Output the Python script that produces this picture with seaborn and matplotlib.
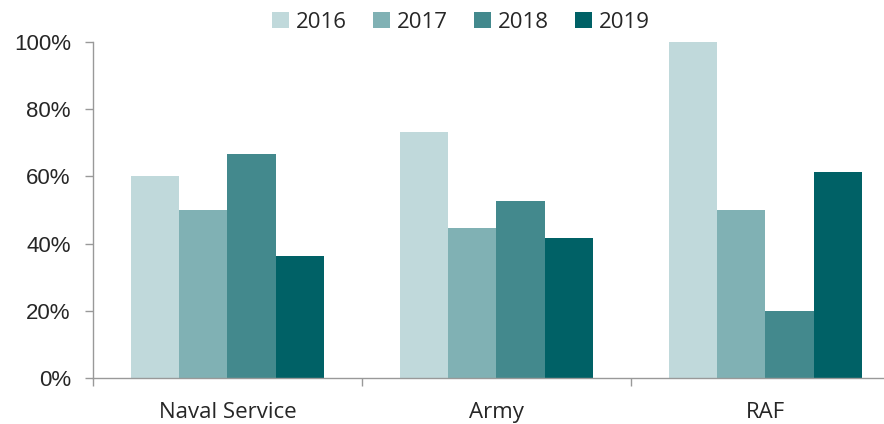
import pandas as pd
import seaborn as sns
from matplotlib import pyplot as plt
from matplotlib.ticker import PercentFormatter, FixedLocator

services = ['Naval Service', 'Army', 'RAF']
years = ['2016', '2017', '2018', '2019']
share_2016 = [60, 73.2, 100]
share_2017 = [50, 44.6, 50]
share_2018 = [66.7, 52.7, 20]
share_2019 = [36.3, 41.7, 61.3]
colours = ['#C0D9DB', '#80B1B4', '#43898D', '#006166']

rows = []
for year, vals in zip(years, [share_2016, share_2017, share_2018, share_2019]):
    for s, v in zip(services, vals):
        rows.append({'service': s, 'year': year, 'share': v})
df = pd.DataFrame(rows)

sns.set_style('white')
plt.rcParams['font.family'] = ['Liberation Sans', 'DejaVu Sans']

fig = plt.figure(figsize=(8.84, 4.24), dpi=100)
# axes runs a little past the right edge, as in the source image
ax = fig.add_axes([0.1052, 0.1085, 0.9129, 0.7925])
sns.barplot(data=df, x='service', y='share', hue='year', palette=colours,
            width=0.72, saturation=1, linewidth=0, ax=ax, legend=True)

ax.set_ylim(0, 100)
ax.set_xlim(-0.5, 2.5)
ax.yaxis.set_major_formatter(PercentFormatter(decimals=0))
ax.set_yticks(range(0, 101, 20))
ax.tick_params(axis='y', left=True, length=6, width=1, color='#999999',
               labelsize=16, pad=10)
ax.tick_params(axis='x', length=0, labelsize=16, pad=17)
for lab in ax.get_xticklabels():
    lab.set_fontfamily(['Open Sans', 'DejaVu Sans'])
ax.xaxis.set_minor_locator(FixedLocator([-0.5, 0.5, 1.5]))
ax.tick_params(axis='x', which='minor', bottom=True, length=6, width=1,
               color='#999999')
ax.set_xlabel('')
ax.set_ylabel('')
for side in ['top', 'right']:
    ax.spines[side].set_visible(False)
for side in ['left', 'bottom']:
    ax.spines[side].set_color('#999999')
    ax.spines[side].set_linewidth(1)

leg = ax.legend(loc='center', bbox_to_anchor=(0.456, 1.058), ncol=4,
                frameon=False, handlelength=0.75, handleheight=0.75,
                handletextpad=0.3, columnspacing=1.2,
                prop={'family': ['Open Sans', 'DejaVu Sans'], 'size': 16})

fig.savefig('out.png', dpi=100)
